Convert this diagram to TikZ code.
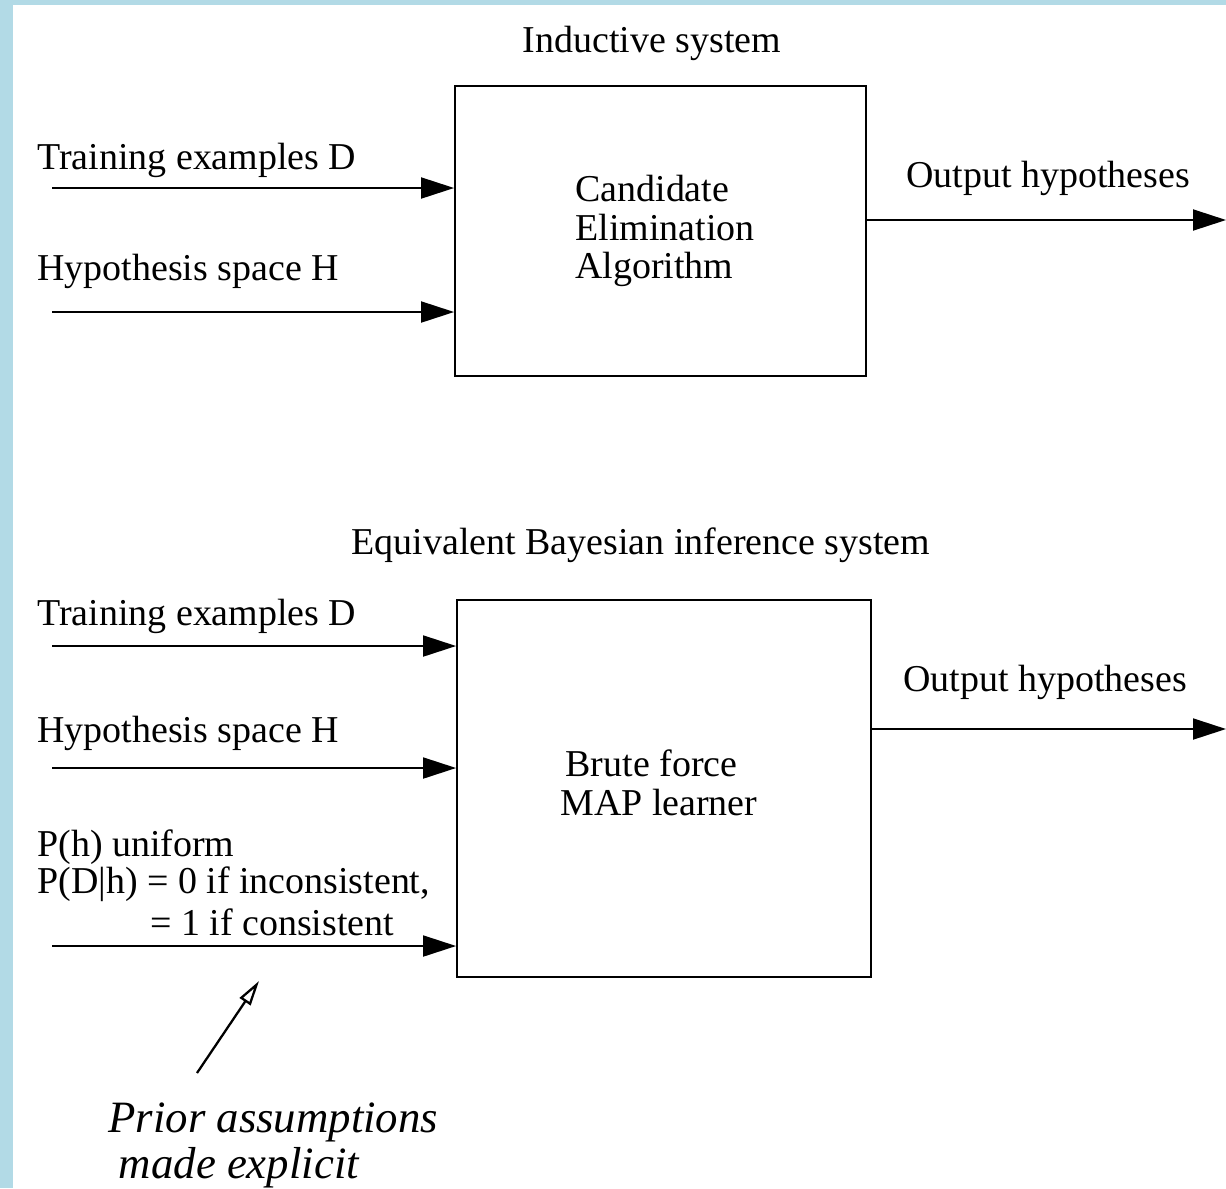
\documentclass[tikz,border=0pt]{standalone}
\usepackage{fontspec}
\setmainfont{Liberation Serif}
\usetikzlibrary{arrows.meta}
\definecolor{bgblue}{RGB}{178,218,230}
\begin{document}
\begin{tikzpicture}[x=0.02cm,y=-0.02cm,
  lbl/.style={font=\fontsize{21.6}{22}\selectfont, inner sep=0pt},
  box/.style={draw, line width=1.1pt, inner sep=0pt},
  arr/.style={line width=1.1pt, -{Triangle[length=0.66cm,width=0.42cm]}},
  ptr/.style={line width=1.3pt, -{Triangle[open,length=0.5cm,width=0.26cm]}}]
\useasboundingbox (0,0) rectangle (1226,1188);
\fill[bgblue] (0,0) rectangle (1226,1188);
\fill[white] (13,5) rectangle (1226,1188);
% top system
\node[lbl] (t1) at (652,43) {Inductive system};
\node[box, minimum width=8.22cm, minimum height=5.8cm] (b1) at (660.5,231) {};
\node[lbl, anchor=west, align=left] (c1) at (575,231) {Candidate\\Elimination\\Algorithm};
\node[lbl, anchor=west] (l1) at (37,160) {Training examples D};
\node[lbl, anchor=west] (l2) at (37,271) {Hypothesis space H};
\coordinate (s1) at (52,188);
\coordinate (s2) at (52,312);
\draw[arr] (s1) -- (s1 -| b1.west);
\draw[arr] (s2) -- (s2 -| b1.west);
\coordinate (o1) at (1226,220);
\draw[arr] (o1 -| b1.east) -- (o1);
\node[lbl] (ol1) at (1048,178) {Output hypotheses};
% bottom system
\node[lbl] (t2) at (641,545) {Equivalent Bayesian inference system};
\node[box, minimum width=8.28cm, minimum height=7.54cm] (b2) at (664,788.5) {};
\node[lbl, anchor=west, align=left] (c2) at (560,783) {\hspace*{3pt}Brute force\\MAP learner};
\node[lbl, anchor=west] (l3) at (37,616) {Training examples D};
\node[lbl, anchor=west] (l4) at (37,733) {Hypothesis space H};
\node[lbl, anchor=west] (p1) at (37,847) {P(h) uniform};
\node[lbl, anchor=west] (p2) at (37,884) {P(D|h) = 0 if inconsistent,};
\node[lbl, anchor=west] (p3) at (150,922) {= 1 if consistent};
\coordinate (s3) at (52,646);
\coordinate (s4) at (52,768);
\coordinate (s5) at (52,946);
\draw[arr] (s3) -- (s3 -| b2.west);
\draw[arr] (s4) -- (s4 -| b2.west);
\draw[arr] (s5) -- (s5 -| b2.west);
\coordinate (o2) at (1226,729);
\draw[arr] (o2 -| b2.east) -- (o2);
\node[lbl] (ol2) at (1045,682) {Output hypotheses};
% prior assumptions
\node[font=\fontsize{25.5}{26.5}\selectfont\itshape, anchor=north west, align=left, inner sep=0pt] (pa) at (108,1102) {Prior assumptions\\\hspace*{6pt}made explicit};
\coordinate (pt) at (259,981);
\coordinate (pf) at (197,1073);
\draw[ptr] (pf) -- (pt);
\end{tikzpicture}
\end{document}
